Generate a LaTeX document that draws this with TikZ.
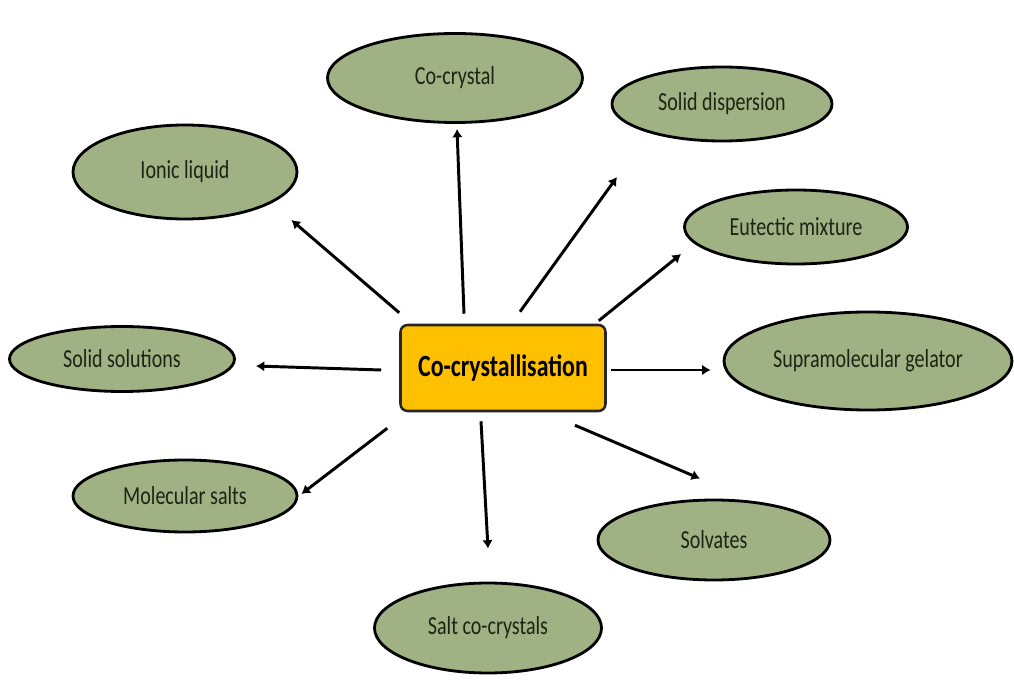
\documentclass[tikz,border=0pt]{standalone}
\usepackage{fontspec}
\setmainfont{Carlito}
\newfontfamily\formfont[FakeStretch=0.77]{Carlito}
\usetikzlibrary{arrows.meta, shapes.geometric, calc, positioning}
\usepackage{xcolor}
\definecolor{olivefill}{RGB}{160,178,131}
\definecolor{olivetext}{RGB}{28,36,20}
\definecolor{boxfill}{RGB}{255,192,0}

\tikzset{
  form/.style={ellipse, draw=black, line width=2pt, fill=olivefill, inner sep=0pt,
    text=olivetext, font=\formfont\fontsize{18.5}{20}\selectfont},
  core/.style={rectangle, rounded corners=5pt, draw=black!85, line width=1.8pt, fill=boxfill,
    inner sep=0pt, minimum width=205*0.025cm, minimum height=86*0.025cm,
    font=\formfont\bfseries\fontsize{22}{24}\selectfont},
  arr/.style={line width=2.1pt, -{Latex[length=6pt,width=7.5pt]}}
}

\begin{document}
\begin{tikzpicture}[x=0.025cm, y=0.025cm]
  \useasboundingbox (0,0) rectangle (1014,679);

  % centre box
  \node[core] (cryst) at (503,311) {Co-crystallisation};

  % forms round it
  \node[form, minimum width=255*0.025cm, minimum height=89*0.025cm] (cocr) at (455,601) {Co-crystal};
  \node[form, minimum width=220*0.025cm, minimum height=74*0.025cm] (sdis) at (722,575) {Solid dispersion};
  \node[form, minimum width=224*0.025cm, minimum height=94*0.025cm] (ionl) at (185,507) {Ionic liquid};
  \node[form, minimum width=223*0.025cm, minimum height=74*0.025cm] (eutm) at (796,452) {Eutectic mixture};
  \node[form, minimum width=225*0.025cm, minimum height=65*0.025cm] (ssol) at (122,320) {Solid solutions};
  \node[form, minimum width=288*0.025cm, minimum height=98*0.025cm] (gelr) at (868,318) {Supramolecular gelator};
  \node[form, minimum width=224*0.025cm, minimum height=72*0.025cm] (msal) at (185,183) {Molecular salts};
  \node[form, minimum width=232*0.025cm, minimum height=80*0.025cm] (solv) at (714,139) {Solvates};
  \node[form, minimum width=227*0.025cm, minimum height=90*0.025cm] (scoc) at (488,51) {Salt co-crystals};

  % arrows
  \draw[arr] ([shift={(-39,10)}]cryst.north) -- ([shift={(2,-5)}]cocr.south);
  \draw[arr] ([shift={(17,12)}]cryst.north) -- ([shift={(-105,-73)}]sdis.center);
  \draw[arr] ([shift={(0,11)}]cryst.north west) -- ([shift={(-7,-48)}]ionl.east);
  \draw[arr] ([shift={(-8,3)}]cryst.north east) -- ([shift={(-2,-27)}]eutm.west);
  \draw[arr] ([shift={(-18,-2)}]cryst.west) -- ([shift={(20,-7)}]ssol.east);
  \draw[arr] ([shift={(4,-2)}]cryst.east) -- ([shift={(-12,-9)}]gelr.west);
  \draw[arr] ([shift={(-12,-16)}]cryst.south west) -- ([shift={(3,2)}]msal.east);
  \draw[arr] ([shift={(72,-13)}]cryst.south) -- ([shift={(-14,20)}]solv.north);
  \draw[arr] ([shift={(-22,-9)}]cryst.south) -- ([shift={(0,33)}]scoc.north);
\end{tikzpicture}
\end{document}
